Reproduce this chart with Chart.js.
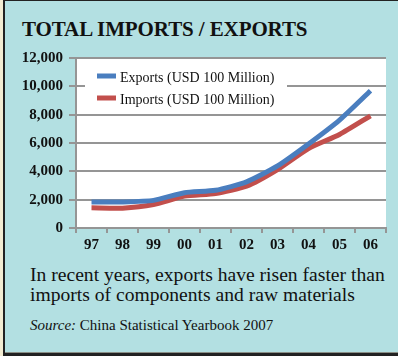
<!DOCTYPE html>
<html>
<head>
<meta charset="utf-8">
<script src="https://cdn.jsdelivr.net/npm/chart.js@4.4.1/dist/chart.umd.min.js"></script>
<style>
  html, body { margin: 0; padding: 0; }
  body { width: 398px; height: 356px; background: #f3ecd2; position: relative; overflow: hidden; font-family: 'Liberation Serif', serif; color: #111; }
  #card { position: absolute; left: 3px; top: 0; width: 395px; height: 356px; background: #b3e0e2;
          border-left: 2px solid #222; border-top: 1px solid #222; border-bottom: 3px solid #222; box-sizing: border-box; }
  #card:after { content: ''; position: absolute; left: 0; right: 0; bottom: 0; height: 1px; background: #8a8f86; }
  #chartWrap { position: absolute; left: 0; top: 0; width: 398px; height: 250px; }
  .title { position: absolute; left: 22px; top: 19px; font-size: 21px; line-height: 20px; font-weight: bold; letter-spacing: -0.1px; white-space: nowrap; }
  .caption { position: absolute; left: 30px; top: 265px; font-size: 19.6px; line-height: 20px; white-space: nowrap; }
  .source { position: absolute; left: 30px; top: 317px; font-size: 15px; line-height: 16px; white-space: nowrap; }
</style>
</head>
<body>
<div id="card"></div>
<div class="title">TOTAL IMPORTS / EXPORTS</div>
<div id="chartWrap"><canvas id="tradeChart" width="398" height="250"></canvas></div>
<div class="caption">In recent years, exports have risen faster than<br>imports of components and raw materials</div>
<div class="source"><i>Source:</i> China Statistical Yearbook 2007</div>

<script>
// years 1997-2006, values in USD 100 million
const years = ['97', '98', '99', '00', '01', '02', '03', '04', '05', '06'];
const exportsData = [1827, 1837, 1949, 2492, 2661, 3256, 4382, 5933, 7620, 9691];
const importsData = [1424, 1402, 1657, 2251, 2436, 2952, 4128, 5612, 6600, 7916];
const yTickValues = [0, 2000, 4000, 6000, 8000, 10000, 12000];

const serif = "'Liberation Serif', serif";
const axisGray = '#959595';

// white plot background
const plotBg = {
    id: 'plotBg',
    beforeDraw(chart) {
        const { ctx, chartArea: a } = chart;
        ctx.save();
        ctx.fillStyle = '#ffffff';
        ctx.fillRect(a.left, a.top, a.right - a.left, a.bottom - a.top);
        ctx.restore();
    }
};

// legend boxed inside the top left of the plot
const insetLegend = {
    id: 'insetLegend',
    beforeDatasetsDraw(chart) {
        const { ctx, chartArea: a } = chart;
        const x0 = a.left + 9, y0 = a.top + 4;
        ctx.save();
        ctx.fillStyle = '#ffffff';
        ctx.fillRect(x0, y0, 202, 46);
        ctx.font = '14px ' + serif;
        ctx.textBaseline = 'alphabetic';
        chart.data.datasets.forEach((ds, i) => {
            const y = a.top + 18 + i * 22;
            ctx.strokeStyle = ds.borderColor;
            ctx.lineWidth = 5;
            ctx.beginPath();
            ctx.moveTo(a.left + 21, y);
            ctx.lineTo(a.left + 40, y);
            ctx.stroke();
            ctx.fillStyle = '#111';
            ctx.fillText(ds.label, a.left + 44, y + 6);
        });
        ctx.restore();
    }
};

const ctx = document.getElementById('tradeChart').getContext('2d');

new Chart(ctx, {
    type: 'line',
    data: {
        labels: years,
        datasets: [
            {
                label: 'Exports (USD 100 Million)',
                data: exportsData,
                borderColor: '#4a7ebf',
                borderWidth: 5,
                pointRadius: 0,
                tension: 0.2,
                fill: false
            },
            {
                label: 'Imports (USD 100 Million)',
                data: importsData,
                borderColor: '#c24f4c',
                borderWidth: 5,
                pointRadius: 0,
                tension: 0.2,
                fill: false
            }
        ]
    },
    options: {
        responsive: false,
        animation: false,
        layout: { padding: { top: 58, right: 12, left: 0, bottom: 0 } },
        plugins: {
            legend: { display: false },
            tooltip: { enabled: false }
        },
        scales: {
            x: {
                offset: true,
                afterFit(scale) { scale.height = 22; },
                border: { color: axisGray, width: 2 },
                grid: {
                    offset: true,
                    drawOnChartArea: false,
                    drawTicks: true,
                    tickLength: 5,
                    color: axisGray,
                    lineWidth: 2
                },
                ticks: {
                    color: '#111',
                    padding: 3,
                    font: { family: serif, size: 15, weight: 'bold' }
                }
            },
            y: {
                min: 0,
                max: 12000,
                afterFit(scale) { scale.width = 76; },
                afterBuildTicks(scale) { scale.ticks = yTickValues.map(v => ({ value: v })); },
                border: { color: axisGray, width: 2 },
                grid: {
                    color: axisGray,
                    lineWidth: 2,
                    drawTicks: true,
                    tickLength: 7
                },
                ticks: {
                    color: '#111',
                    padding: 6,
                    font: { family: serif, size: 15, weight: 'bold' },
                    callback: v => v.toLocaleString('en-US')
                }
            }
        }
    },
    plugins: [plotBg, insetLegend]
});
</script>
</body>
</html>
